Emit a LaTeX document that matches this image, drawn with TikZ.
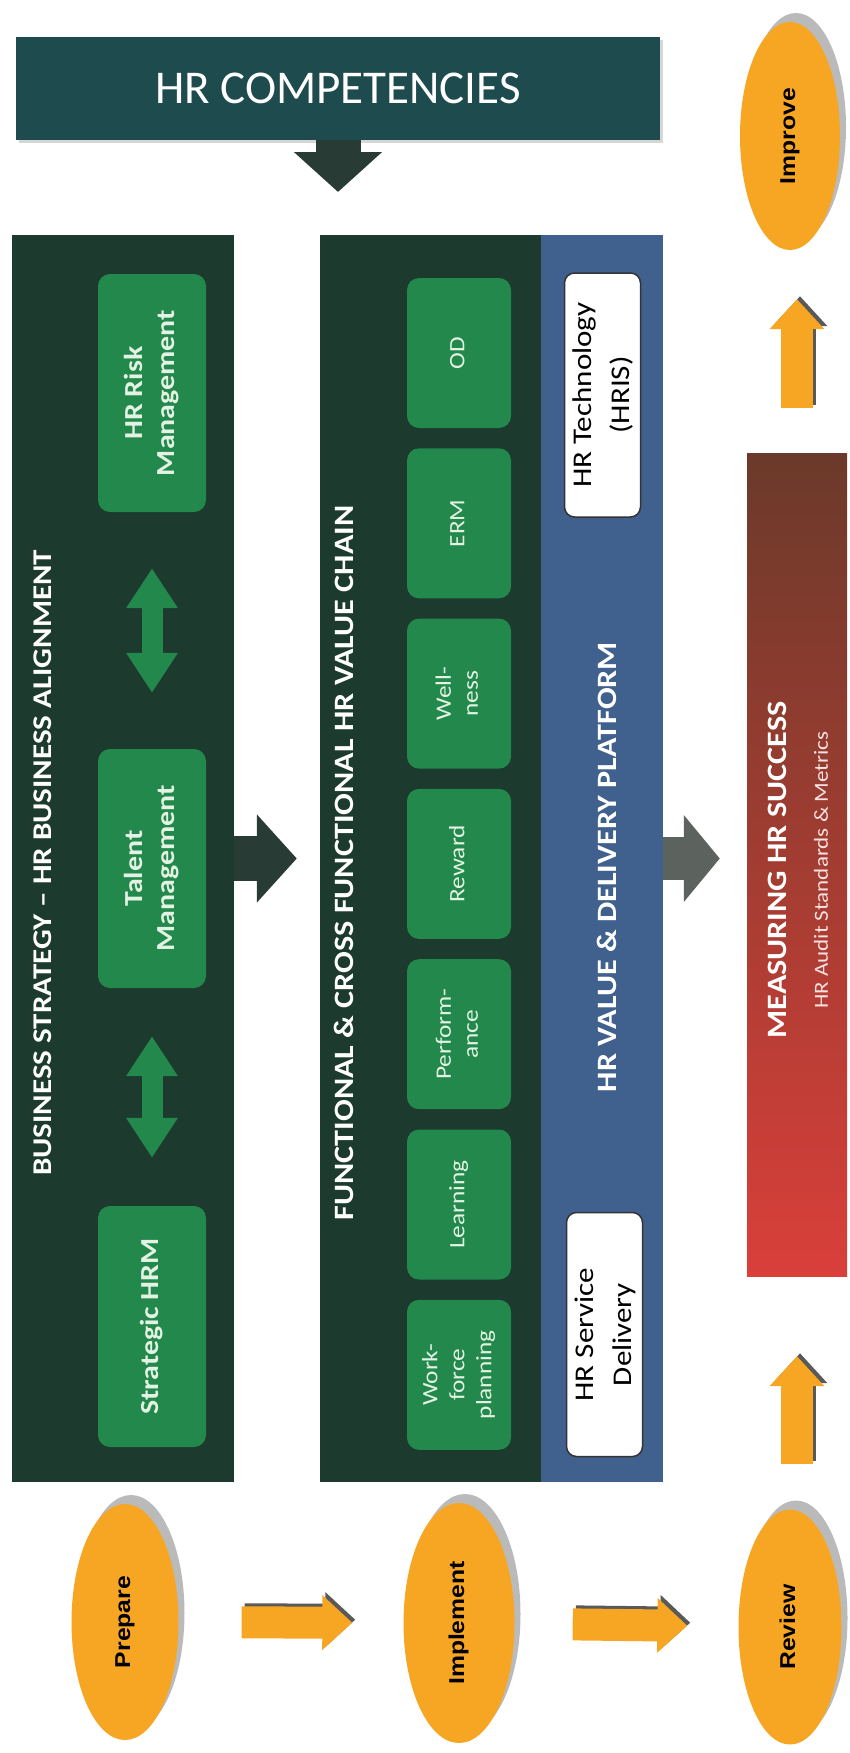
\documentclass[tikz,border=0pt]{standalone}
\usepackage{fontspec}
\setmainfont{Carlito}
\newfontfamily\arialfont{Liberation Sans}
\usepackage{graphicx}
\usetikzlibrary{arrows.meta, positioning, shapes.geometric, shadows}

\definecolor{bannerteal}{HTML}{1E4B4D}
\definecolor{panelgreen}{HTML}{1C3A2D}
\definecolor{boxgreen}{HTML}{23884B}
\definecolor{paleline}{HTML}{E3F3E3}
\definecolor{platblue}{HTML}{40608E}
\definecolor{arrowdark}{HTML}{283C35}
\definecolor{arrowgrey}{HTML}{5C625E}
\definecolor{stepgold}{HTML}{F6A623}
\definecolor{metricbrown}{HTML}{6B3A2A}
\definecolor{metricred}{HTML}{DA3F3A}

% text set bottom-to-top, a little stretched along the line
\newcommand{\sidetext}[1]{\rotatebox{90}{\scalebox{1.15}[1]{\begin{tabular}{@{}c@{}}#1\end{tabular}}}}

\begin{document}
\begin{tikzpicture}[x=1pt, y=-1pt, >=Latex]
    \tikzstyle{panel}=[rectangle, inner sep=0pt, fill=panelgreen]
    \tikzstyle{ptitle}=[inner sep=0pt, text=white, font=\bfseries\fontsize{27}{32}\selectfont]
    \tikzstyle{gbox}=[rectangle, rounded corners=12pt, inner sep=0pt, fill=boxgreen, text=paleline]
    \tikzstyle{wbox}=[rectangle, rounded corners=10pt, inner sep=0pt, fill=white, draw=black!80, line width=1.5pt, minimum width=75pt, minimum height=244pt, font=\fontsize{27}{38}\selectfont]
    \tikzstyle{stage}=[ellipse, inner sep=0pt, fill=stepgold, minimum width=107pt, minimum height=236pt, font=\arialfont\bfseries\fontsize{21.5}{26}\selectfont, drop shadow={shadow xshift=6pt, shadow yshift=9pt, fill=black!45, opacity=.6}]
    \tikzstyle{bigdark}=[draw=arrowdark, line width=45pt, -{Triangle[length=40pt, width=86pt]}]
    \tikzstyle{biggrey}=[draw=arrowgrey, line width=43pt, -{Triangle[length=36pt, width=85pt]}]
    \tikzstyle{twoway}=[draw=boxgreen, line width=21pt, {Triangle[length=40pt, width=49pt]}-{Triangle[length=40pt, width=49pt]}]
    \tikzstyle{stepflow}=[draw=stepgold, line width=32pt, -{Triangle[length=30pt, width=53pt]}]
    \tikzstyle{stepshade}=[draw=black!65, line width=32pt, -{Triangle[length=30pt, width=53pt]}, transform canvas={xshift=3pt, yshift=3pt}]

    \useasboundingbox (0,0) rectangle (849,1753);

    \node[rectangle, inner sep=0pt, fill=bannerteal, minimum width=644pt, minimum height=103pt, text=white, font=\fontsize{47}{50}\selectfont, drop shadow={shadow xshift=3pt, shadow yshift=-3pt, fill=black!40, opacity=.4}] (banner) at (338,88.5) {HR COMPETENCIES};
    \coordinate (comptip) at (338,192);

    \node[panel, minimum width=222pt, minimum height=1247pt] (align) at (123,858.5) {};
    \node[panel, minimum width=221pt, minimum height=1247pt] (chain) at (430.5,858.5) {};
    \node[rectangle, inner sep=0pt, fill=platblue, minimum width=122pt, minimum height=1247pt] (platform) at (602,858.5) {};

    \node[ptitle] (aligntitle) at (45,863) {\sidetext{BUSINESS STRATEGY – HR BUSINESS ALIGNMENT}};
    \node[ptitle, font=\bfseries\fontsize{28}{32}\selectfont] (chaintitle) at (347,863) {\sidetext{FUNCTIONAL \& CROSS FUNCTIONAL HR VALUE CHAIN}};
    \node[ptitle, font=\bfseries\fontsize{28}{32}\selectfont] (platformtitle) at (610,867) {\sidetext{HR VALUE \& DELIVERY PLATFORM}};

    \node[gbox, font=\bfseries\fontsize{26}{32}\selectfont, minimum width=108pt, minimum height=238pt] (risk) at (152,393) {\sidetext{HR Risk\\Management}};
    \node[gbox, font=\bfseries\fontsize{26}{32}\selectfont, minimum width=108pt, minimum height=239pt] (talent) at (152,868.5) {\sidetext{Talent\\Management}};
    \node[gbox, font=\bfseries\fontsize{26}{32}\selectfont, minimum width=108pt, minimum height=241pt] (strategic) at (152,1326.5) {\sidetext{Strategic HRM}};

    \foreach \nm/\txt [count=\i from 0] in {od/OD, erm/ERM, wellness/{Well-\\ness}, reward/Reward, perform/{Perform-\\ance}, learning/Learning, workforce/{Work-\\force\\planning}}
        \node[gbox, font=\fontsize{22}{27}\selectfont, minimum width=104pt, minimum height=150pt] (\nm) at (459,{353+170.3*\i}) {\sidetext{\txt}};

    \node[wbox] (hris) at (602.5,395) {\sidetext{HR Technology\\(HRIS)}};
    \node[wbox] (service) at (604.5,1334.5) {\sidetext{HR Service\\Delivery}};

    \node[rectangle, inner sep=0pt, top color=metricbrown, bottom color=metricred, minimum width=100pt, minimum height=823pt] (measure) at (797,864.5) {};
    \node[ptitle, font=\bfseries\fontsize{28}{32}\selectfont] (measuretitle) at (780,870) {\sidetext{MEASURING HR SUCCESS}};
    \node[inner sep=0pt, text=white!85!metricred, font=\fontsize{20}{24}\selectfont] (measuresub) at (823,870) {\sidetext{HR Audit Standards \& Metrics}};

    \node[stage, minimum width=100pt, minimum height=228pt] (improve) at (790,136) {\sidetext{Improve}};
    \node[stage] (prepare) at (125,1622) {\sidetext{Prepare}};
    \node[stage, minimum width=111pt, minimum height=240pt] (implement) at (459,1623) {\sidetext{Implement}};
    \node[stage, minimum width=103pt, minimum height=235pt] (review) at (790,1627) {\sidetext{Review}};

    \draw[bigdark] (banner.south) -- (comptip);
    \draw[bigdark, shorten >=23pt] (align.east) -- (chain.west);
    \draw[biggrey, shorten >=27pt] (platform.east) -- (platform.east -| measure.west);

    \draw[twoway, shorten <=56pt, shorten >=56pt] (risk) -- (talent);
    \draw[twoway, shorten <=48pt, shorten >=48pt] (talent) -- (strategic);

    \draw[stepshade, shorten <=63pt, shorten >=51pt] (prepare) -- (implement);
    \draw[stepflow, shorten <=63pt, shorten >=51pt] (prepare) -- (implement);
    \draw[stepshade, shorten <=58pt, shorten >=51pt] (implement) -- (review);
    \draw[stepflow, shorten <=58pt, shorten >=51pt] (implement) -- (review);
    \draw[stepshade, shorten <=45pt, shorten >=80pt] (review.north -| measure.south) -- (measure.south);
    \draw[stepflow, shorten <=45pt, shorten >=80pt] (review.north -| measure.south) -- (measure.south);
    \draw[stepshade, shorten <=45pt, shorten >=49pt] (measure.north) -- (measure.north |- improve.south);
    \draw[stepflow, shorten <=45pt, shorten >=49pt] (measure.north) -- (measure.north |- improve.south);
\end{tikzpicture}
\end{document}
